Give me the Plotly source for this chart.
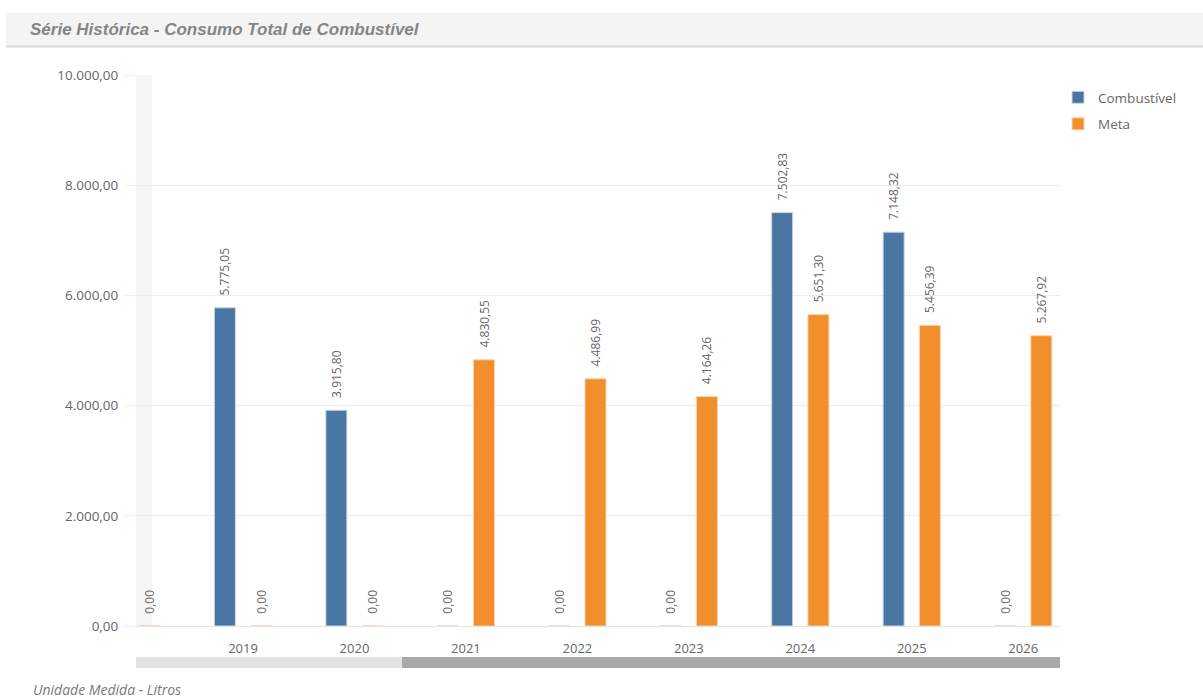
import plotly.graph_objects as go

years = [2018, 2019, 2020, 2021, 2022, 2023, 2024, 2025, 2026]
year_labels = ["2018", "2019", "2020", "2021", "2022", "2023", "2024", "2025", "2026"]
combustivel = [0, 5775.05, 3915.80, 0, 0, 0, 7502.83, 7148.32, 0]
meta = [0, 0, 0, 4830.55, 4486.99, 4164.26, 5651.30, 5456.39, 5267.92]
y_ticks = [0, 2000, 4000, 6000, 8000, 10000]

BLUE = "#4A76A4"
ORANGE = "#F28E2B"
GREY_TXT = "#666666"
FONT = "Open Sans"

W, H = 1203, 698
L, R, T, B = 136, 143, 75, 72
PW = W - L - R
PH = H - T - B


def px_x(p):
    return (p - L) / PW


def px_y(p):
    return 1 - (p - T) / PH


def fmt(v):
    s = f"{v:,.2f}"
    s = s.replace(",", "X").replace(".", ",").replace("X", ".")
    return "\u00a0\u00a0\u00a0" + s


fig = go.Figure()
fig.add_trace(go.Bar(
    x=years, y=combustivel, name="Combustível", legendgroup="a",
    marker=dict(color=BLUE, line=dict(color="#c9d6e6", width=1)),
    text=[fmt(v) for v in combustivel], textposition="outside", textangle=-90,
    textfont=dict(family=FONT, size=12, color=GREY_TXT), constraintext="none",
    cliponaxis=True, hoverinfo="skip",
))
fig.add_trace(go.Bar(
    x=years, y=meta, name="Meta", legendgroup="b",
    marker=dict(color=ORANGE, line=dict(color="#f7d3b0", width=1)),
    text=[fmt(v) for v in meta], textposition="outside", textangle=-90,
    textfont=dict(family=FONT, size=12, color=GREY_TXT), constraintext="none",
    cliponaxis=True, hoverinfo="skip",
))

shapes = [
    # title band
    dict(type="rect", xref="paper", yref="paper", x0=px_x(6), x1=px_x(1203),
         y0=px_y(46), y1=px_y(13), fillcolor="#f4f4f4", line=dict(width=0), layer="below"),
    dict(type="line", xref="paper", yref="paper", x0=px_x(6), x1=px_x(1203),
         y0=px_y(46.5), y1=px_y(46.5), line=dict(color="#d8d8d8", width=2)),
    # left shaded strip
    dict(type="rect", xref="paper", yref="paper", x0=0, x1=px_x(152),
         y0=0, y1=1, fillcolor="#f5f5f5", line=dict(width=0), layer="below"),
    # scrollbar
    dict(type="rect", xref="paper", yref="paper", x0=0, x1=px_x(402),
         y0=px_y(668), y1=px_y(657), fillcolor="#e3e3e3", line=dict(width=0)),
    dict(type="rect", xref="paper", yref="paper", x0=px_x(402), x1=1,
         y0=px_y(668), y1=px_y(657), fillcolor="#a9a9a9", line=dict(width=0)),
]

annotations = [
    dict(text="<b><i>Série Histórica - Consumo Total de Combustível</i></b>",
         xref="paper", yref="paper", x=px_x(28), y=px_y(29), xanchor="left", yanchor="middle",
         showarrow=False, font=dict(family="Liberation Sans", size=17, color="#858585")),
    dict(text="<i>Unidade Medida - Litros</i>",
         xref="paper", yref="paper", x=px_x(31), y=px_y(689), xanchor="left", yanchor="middle",
         showarrow=False, font=dict(family=FONT, size=14, color="#7a7a7a")),
]

fig.update_layout(
    width=W, height=H,
    margin=dict(l=L, r=R, t=T, b=B, autoexpand=False),
    paper_bgcolor="white", plot_bgcolor="white",
    separators=",.",
    barmode="group", bargap=0.35, bargroupgap=0.42,
    showlegend=True,
    legend=dict(x=px_x(1058), y=px_y(82), xanchor="left", yanchor="top",
                font=dict(family=FONT, size=13.5, color=GREY_TXT),
                tracegroupgap=6, traceorder="grouped", itemwidth=30),
    shapes=shapes, annotations=annotations,
    font=dict(family=FONT, color=GREY_TXT),
)
fig.update_xaxes(
    range=[2018.04, 2026.33], tickmode="array",
    tickvals=years[1:], ticktext=year_labels[1:],
    showgrid=False, zeroline=False, showline=False,
    ticks="outside", ticklen=10, tickcolor="white",
    tickfont=dict(family=FONT, size=13, color=GREY_TXT),
)
fig.update_yaxes(
    range=[0, 10000], tickmode="array", tickvals=y_ticks,
    tickformat=",.2f", showgrid=True, gridcolor="#ececec", gridwidth=1,
    zeroline=True, zerolinecolor="#e4e4e4", zerolinewidth=1,
    ticks="outside", ticklen=10, tickcolor="#ececec",
    ticklabelstandoff=4,
    tickfont=dict(family=FONT, size=13.5, color=GREY_TXT),
)

fig.write_html(
    "out.html",
    config={"displayModeBar": False},
    post_script="document.body.style.margin='0';document.body.style.overflow='hidden';",
)
